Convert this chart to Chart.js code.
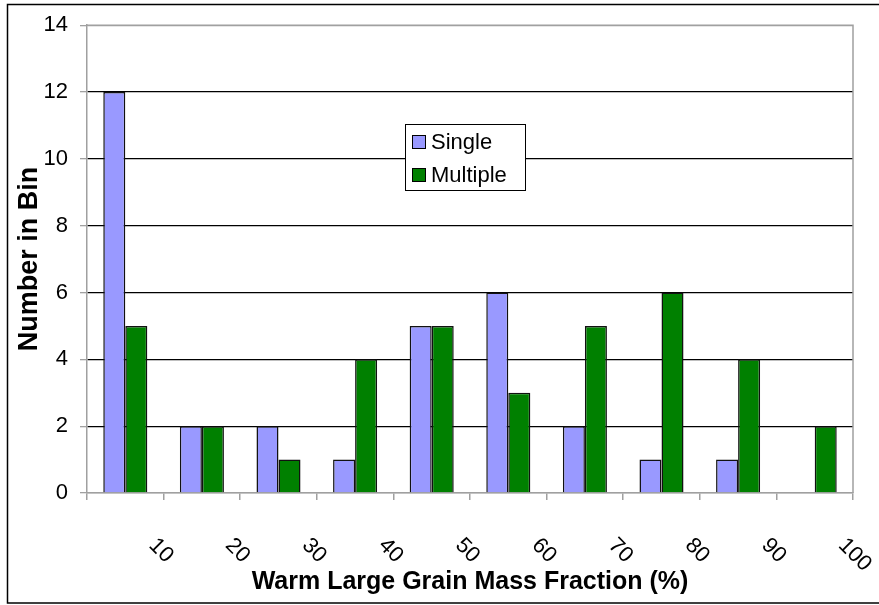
<!DOCTYPE html>
<html>
<head>
<meta charset="utf-8">
<script src="https://cdn.jsdelivr.net/npm/chart.js@4/dist/chart.umd.min.js"></script>
<style>
  body { margin: 0; background: #fff; }
  canvas { display: block; }
</style>
</head>
<body>
<canvas id="binChart" width="879" height="605"></canvas>
<script>
'use strict';

// bins (upper edge of each 10% interval)
let binLabels = ['10', '20', '30', '40', '50', '60', '70', '80', '90', '100'];
let singleCounts = [12, 2, 2, 1, 5, 6, 2, 1, 1, 0];
let multipleCounts = [5, 2, 1, 4, 5, 3, 5, 6, 4, 2];
let yTicks = [0, 2, 4, 6, 8, 10, 12, 14];

let fontFamily = '"Liberation Sans", Arial, sans-serif';
let axisGray = '#a0a0a0';

// frame, titles, slanted bin labels and the boxed legend
let decorPlugin = {
  id: 'decor',
  beforeDatasetsDraw(chart) {
    let c = chart.ctx;
    let area = chart.chartArea;
    c.save();
    c.strokeStyle = axisGray;
    c.lineWidth = 1.5;
    c.beginPath();
    c.moveTo(area.left, area.top);
    c.lineTo(area.right, area.top);
    c.lineTo(area.right, area.bottom);
    c.stroke();
    c.restore();
  },
  afterDraw(chart) {
    let c = chart.ctx;
    let xScale = chart.scales.x;
    c.save();

    // outer border
    c.strokeStyle = '#000';
    c.lineWidth = 1.5;
    c.strokeRect(7.5, 4.5, 900, 598.5);

    // bin labels, slanted down to the right
    c.fillStyle = '#000';
    c.font = '22px ' + fontFamily;
    c.textAlign = 'left';
    c.textBaseline = 'middle';
    for (let i = 0; i < binLabels.length; i++) {
      let cx = xScale.getPixelForValue(i);
      c.save();
      c.translate(cx + 27, 542);
      c.rotate(Math.PI / 4);
      c.fillText(binLabels[i], 0, 0);
      c.restore();
    }

    // axis titles
    c.font = 'bold 25px ' + fontFamily;
    c.textAlign = 'center';
    c.fillText('Warm Large Grain Mass Fraction (%)', 470, 582);

    c.save();
    c.translate(30, 259);
    c.rotate(-Math.PI / 2);
    c.font = 'bold 27px ' + fontFamily;
    c.fillText('Number in Bin', 0, 0);
    c.restore();

    // legend
    let lx = 405, ly = 124, lw = 120, lh = 66;
    c.fillStyle = '#fff';
    c.fillRect(lx, ly, lw, lh);
    c.strokeStyle = '#000';
    c.lineWidth = 1;
    c.strokeRect(lx + 0.5, ly + 0.5, lw, lh);
    let sets = chart.data.datasets;
    for (let i = 0; i < sets.length; i++) {
      let rowY = ly + 18 + i * 33;
      c.fillStyle = sets[i].backgroundColor;
      c.fillRect(412, rowY - 7, 14, 14);
      c.strokeStyle = '#000';
      c.strokeRect(412.5, rowY - 6.5, 13, 13);
      c.fillStyle = '#000';
      c.font = '22px ' + fontFamily;
      c.textAlign = 'left';
      c.fillText(sets[i].label, 431, rowY + 1);
    }
    c.restore();
  }
};

let ctx = document.getElementById('binChart');

new Chart(ctx, {
  type: 'bar',
  data: {
    labels: binLabels,
    datasets: [{
      label: 'Single',
      data: singleCounts,
      backgroundColor: '#9999ff',
      borderColor: '#111',
      borderWidth: 1.5
    },
    {
      label: 'Multiple',
      data: multipleCounts,
      backgroundColor: '#008000',
      borderColor: '#111',
      borderWidth: 1.5
    }]
  },
  options: {
    responsive: false,
    animation: false,
    categoryPercentage: 0.575,
    barPercentage: 1,
    layout: {
      padding: { top: 25, right: 26, left: 0, bottom: 0 }
    },
    plugins: {
      legend: { display: false },
      tooltip: { enabled: false }
    },
    scales: {
      x: {
        ticks: { display: false },
        grid: {
          offset: true,
          drawOnChartArea: false,
          tickLength: 7,
          tickColor: axisGray,
          lineWidth: 1.5
        },
        border: { color: axisGray, width: 1.5 },
        afterFit(scale) {
          scale.height = 112;
        }
      },
      y: {
        min: 0,
        max: 14,
        afterBuildTicks(scale) {
          scale.ticks = yTicks.map(v => ({ value: v }));
        },
        ticks: {
          color: '#000',
          padding: 12,
          font: { family: fontFamily, size: 22 }
        },
        grid: {
          color: c => (c.tick && (c.tick.value === 0 || c.tick.value === 14)) ? axisGray : '#000',
          lineWidth: 1.3,
          tickLength: 7,
          tickColor: axisGray
        },
        border: { color: axisGray, width: 1.5 },
        afterFit(scale) {
          scale.width = 87;
        }
      }
    }
  },
  plugins: [decorPlugin]
});
</script>
</body>
</html>
